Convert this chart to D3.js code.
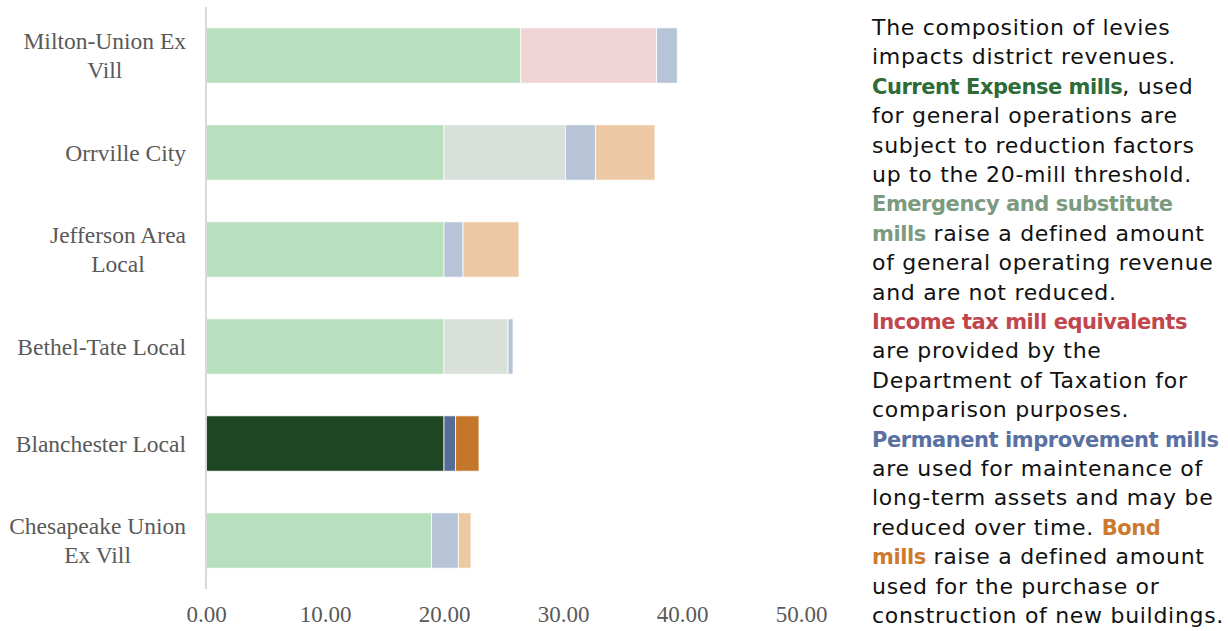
<!DOCTYPE html>
<html>
<head>
<meta charset="utf-8">
<script src="https://cdn.jsdelivr.net/npm/d3@7"></script>
<style>
  body { margin: 0; background: #fff; }
  svg { display: block; }
</style>
</head>
<body>
<div id="chart"></div>
<script>
// districts, top to bottom
const districts = ['Milton-Union Ex Vill', 'Orrville City', 'Jefferson Area Local',
    'Bethel-Tate Local', 'Blanchester Local', 'Chesapeake Union Ex Vill'];
const districtLines = [['Milton-Union Ex', 'Vill'], ['Orrville City'], ['Jefferson Area', 'Local'],
    ['Bethel-Tate Local'], ['Blanchester Local'], ['Chesapeake Union', 'Ex Vill']];
const highlighted = 'Blanchester Local';

// mills by levy type
const currentExpense  = [26.45, 20.0, 20.0, 20.0, 20.0, 18.96];
const emergency       = [0, 10.2, 0, 5.38, 0, 0];
const incomeTax       = [11.42, 0, 0, 0, 0, 0];
const permImprovement = [1.73, 2.55, 1.6, 0.42, 0.98, 2.24];
const bond            = [0, 4.98, 4.7, 0, 1.96, 1.07];

const xTicks = [0, 10, 20, 30, 40, 50];

const seriesKeys = ['currentExpense', 'emergency', 'incomeTax', 'permImprovement', 'bond'];
const lightColors = { currentExpense: '#b8dfbe', emergency: '#d9e0da', incomeTax: '#f0d3d4',
    permImprovement: '#b7c4d8', bond: '#ecc9a4' };
const darkColors = { currentExpense: '#1f4623', emergency: '#6f8a72', incomeTax: '#c0454c',
    permImprovement: '#546c96', bond: '#c4772a' };

const rows = districts.map((d, i) => ({
    district: d,
    currentExpense: currentExpense[i],
    emergency: emergency[i],
    incomeTax: incomeTax[i],
    permImprovement: permImprovement[i],
    bond: bond[i]
}));

const width = 1228, height = 631;
const margin = { top: 7, left: 206 };
const plotW = 595, plotH = 582;

const svg = d3.select('#chart').append('svg')
    .attr('width', width)
    .attr('height', height);

const x = d3.scaleLinear().domain([0, 50]).range([margin.left, margin.left + plotW]);
const y = d3.scaleBand().domain(districts).range([margin.top, margin.top + plotH]).paddingInner(0.43).paddingOuter(0.215);

const stacked = d3.stack().keys(seriesKeys)(rows);

svg.append('g').selectAll('g')
    .data(stacked)
    .join('g')
    .selectAll('rect')
    .data(s => s.map(v => ({ key: s.key, v })))
    .join('rect')
    .filter(d => d.v[1] - d.v[0] > 0)
    .attr('x', d => x(d.v[0]))
    .attr('y', d => y(d.v.data.district))
    .attr('width', d => x(d.v[1]) - x(d.v[0]))
    .attr('height', y.bandwidth())
    .attr('fill', d => d.v.data.district === highlighted ? darkColors[d.key] : lightColors[d.key])
    .attr('stroke', '#fff')
    .attr('stroke-width', 0.75);

// vertical axis line
svg.append('line')
    .attr('x1', x(0)).attr('x2', x(0))
    .attr('y1', margin.top).attr('y2', margin.top + plotH)
    .attr('stroke', '#d9d9d9')
    .attr('stroke-width', 2);

// x tick labels
const xAxis = svg.append('g')
    .attr('transform', `translate(0, ${margin.top + plotH + 14})`)
    .call(d3.axisBottom(x).tickValues(xTicks).tickFormat(d3.format('.2f')).tickSize(0));
xAxis.select('.domain').remove();
xAxis.selectAll('text')
    .attr('font-family', '"Liberation Serif", serif')
    .attr('font-size', 23)
    .attr('fill', '#595959');

// category labels, wrapped lines centred, block right-aligned
const labelRight = 186;
const labelG = svg.append('g')
    .attr('font-family', '"Liberation Serif", serif')
    .attr('font-size', 23.5)
    .attr('fill', '#595959');
districts.forEach((d, i) => {
    const lines = districtLines[i];
    const cy = y(d) + y.bandwidth() / 2;
    const t = labelG.append('text').attr('text-anchor', 'middle');
    lines.forEach((ln, j) => {
        t.append('tspan')
            .attr('y', cy + (j - (lines.length - 1) / 2) * 28.5 + 8)
            .text(ln);
    });
    let maxW = 0;
    t.selectAll('tspan').each(function () { maxW = Math.max(maxW, this.getComputedTextLength()); });
    t.selectAll('tspan').attr('x', labelRight - maxW / 2);
});

// explanatory text
const note = [
    [['The composition of levies']],
    [['impacts district revenues.']],
    [['Current Expense mills', '#2e6b36'], [', used']],
    [['for general operations are']],
    [['subject to reduction factors']],
    [['up to the 20-mill threshold.']],
    [['Emergency and substitute', '#7b9a7e']],
    [['mills', '#7b9a7e'], [' raise a defined amount']],
    [['of general operating revenue']],
    [['and are not reduced.']],
    [['Income tax mill equivalents', '#c0454c']],
    [['are provided by the']],
    [['Department of Taxation for']],
    [['comparison purposes.']],
    [['Permanent improvement mills', '#5a70a0']],
    [['are used for maintenance of']],
    [['long-term assets and may be']],
    [['reduced over time. '], ['Bond', '#cc7a30']],
    [['mills', '#cc7a30'], [' raise a defined amount']],
    [['used for the purchase or']],
    [['construction of new buildings.']]
];
const noteG = svg.append('g')
    .attr('font-family', '"DejaVu Sans", sans-serif')
    .attr('font-size', 22)
    .attr('letter-spacing', 0.7)
    .attr('fill', '#111');
note.forEach((parts, i) => {
    const t = noteG.append('text')
        .attr('x', 872)
        .attr('y', 35 + i * 29.4)
        .attr('xml:space', 'preserve');
    parts.forEach(p => {
        const s = t.append('tspan').text(p[0]);
        if (p[1]) s.attr('fill', p[1]).attr('font-weight', 'bold')
            .attr('font-size', 21).attr('letter-spacing', -0.45);
    });
});
</script>
</body>
</html>
